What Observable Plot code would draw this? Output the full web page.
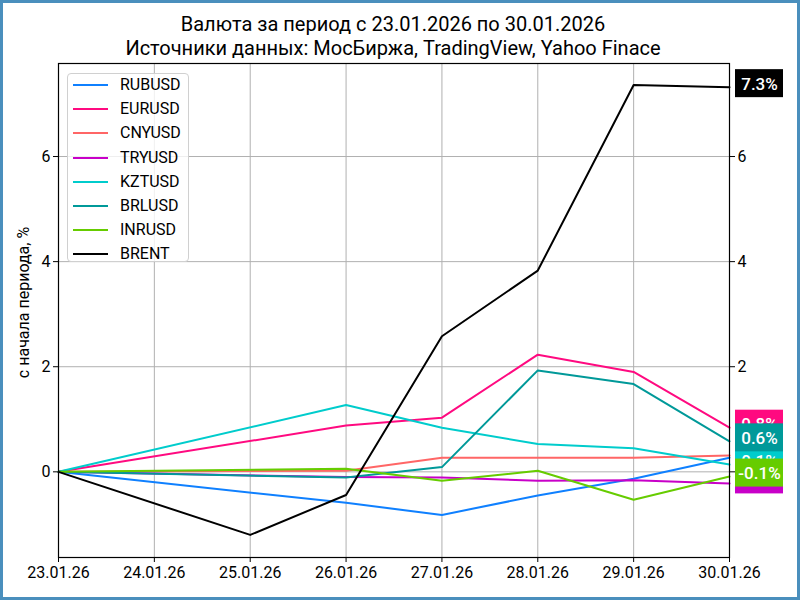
<!DOCTYPE html>
<html>
<head>
<meta charset="utf-8">
<script src="https://cdn.jsdelivr.net/npm/d3@7"></script>
<script src="https://cdn.jsdelivr.net/npm/@observablehq/plot@0.6"></script>
<style>
  body { margin: 0; background: #fff; }
  #wrap { position: relative; width: 800px; height: 600px; overflow: hidden; font-family: Roboto, sans-serif; background: #fff; }
  #title { position: absolute; left: 0; top: 12px; width: 786px; text-align: center; font-size: 20px; line-height: 24px; color: #000; }
  #chart { position: absolute; left: 0; top: 58px; }
  #legend { position: absolute; left: 67px; top: 73px; width: 122px; height: 189px; box-sizing: border-box;
            border: 1px solid #d0d0d0; border-radius: 4px; background: rgba(255,255,255,0.8); font-size: 16px; }
  .row { position: absolute; left: 0; height: 20px; width: 120px; }
  .row .sw { position: absolute; left: 5px; top: 9px; width: 35px; height: 2px; }
  .row .lb { position: absolute; left: 52px; top: 0; line-height: 20px; color: #000; }
  #border { position: absolute; left: 0; top: 0; width: 800px; height: 600px; box-sizing: border-box;
            border: 3px solid #4a8fbd; pointer-events: none; }
</style>
</head>
<body>
<div id="wrap">
  <div id="title">Валюта за период с 23.01.2026 по 30.01.2026<br>Источники данных: МосБиржа, TradingView, Yahoo Finace</div>
  <div id="chart"></div>
  <div id="legend"></div>
  <div id="border"></div>
</div>
<script>
// ---- data ----
const tickDates = ["2026-01-23","2026-01-24","2026-01-25","2026-01-26","2026-01-27","2026-01-28","2026-01-29","2026-01-30"];
const tickLabels = ["23.01.26","24.01.26","25.01.26","26.01.26","27.01.26","28.01.26","29.01.26","30.01.26"];
const seriesNames = ["RUBUSD","EURUSD","CNYUSD","TRYUSD","KZTUSD","BRLUSD","INRUSD","BRENT"];
const seriesColors = ["#0f80ff","#ff0a80","#ff6666","#c800c8","#00cccc","#009999","#66cc00","#000000"];
const fxDates = ["2026-01-23","2026-01-26","2026-01-27","2026-01-28","2026-01-29","2026-01-30"];
const RUBUSD = [0, -0.59, -0.82, -0.45, -0.13, 0.27];
const EURUSD = [0, 0.88, 1.03, 2.23, 1.90, 0.84];
const CNYUSD = [0, 0.02, 0.27, 0.27, 0.27, 0.31];
const TRYUSD = [0, -0.10, -0.11, -0.17, -0.16, -0.22];
const KZTUSD = [0, 1.27, 0.84, 0.53, 0.45, 0.14];
const BRLUSD = [0, -0.11, 0.09, 1.93, 1.67, 0.58];
const INRUSD = [0, 0.06, -0.17, 0.02, -0.53, -0.09];
const brentDates = ["2026-01-23","2026-01-25","2026-01-26","2026-01-27","2026-01-28","2026-01-29","2026-01-30"];
const BRENT = [0, -1.20, -0.44, 2.58, 3.83, 7.36, 7.32];
const yTicks = [0, 2, 4, 6];
const yLabel = "с начала периода, %";

// ---- build table ----
const seriesValues = {RUBUSD, EURUSD, CNYUSD, TRYUSD, KZTUSD, BRLUSD, INRUSD, BRENT};
const rows = [];
for (const s of seriesNames) {
  const ds = s === "BRENT" ? brentDates : fxDates;
  seriesValues[s].forEach((v, i) => rows.push({series: s, date: new Date(ds[i]), value: v}));
}
const lastPoints = seriesNames.map(s => {
  const r = rows.filter(d => d.series === s);
  return r[r.length - 1];
});
const ticks = tickDates.map(d => new Date(d));
const labelOf = new Map(ticks.map((t, i) => [+t, tickLabels[i]]));

// end-of-line value boxes, each box followed by its own text (so later boxes cover earlier labels)
const valueBoxes = lastPoints.flatMap(p => [
  Plot.rect([p], {x1: "date", x2: "date", y1: "value", y2: "value", fill: "series",
    insetLeft: 6, insetRight: -54, insetTop: -17.5, insetBottom: -10.5}),
  Plot.text([p], {x: "date", y: "value", text: d => d.value.toFixed(1) + "%", fill: "#fff",
    dx: 30, dy: -3, fontSize: 17, fontWeight: 500})
]);

const plot = Plot.plot({
  width: 800,
  height: 542,
  marginTop: 5,
  marginBottom: 43,
  marginLeft: 58,
  marginRight: 71,
  style: {fontFamily: "Roboto, sans-serif", fontSize: "16px", color: "#000", background: "transparent", overflow: "visible"},
  x: {type: "utc", domain: [ticks[0], ticks[ticks.length - 1]]},
  y: {domain: [-1.63, 7.77]},
  color: {domain: seriesNames, range: seriesColors},
  marks: [
    Plot.gridX(ticks, {stroke: "#b0b0b0", strokeOpacity: 1, strokeWidth: 1}),
    Plot.gridY(yTicks, {stroke: "#b0b0b0", strokeOpacity: 1, strokeWidth: 1}),
    Plot.axisX(ticks, {tickSize: 5, tickPadding: 4, tickFormat: d => labelOf.get(+d), label: null, fontSize: 16}),
    Plot.axisY(yTicks, {anchor: "left", tickSize: 5, tickPadding: 3, tickFormat: d => String(d), label: null, fontSize: 16}),
    Plot.axisY(yTicks, {anchor: "right", tickSize: 5, tickPadding: 3, tickFormat: d => String(d), label: null, fontSize: 16}),
    Plot.text([yLabel], {frameAnchor: "left", textAnchor: "middle", text: d => d, rotate: -90, dx: -35, dy: -8, fontSize: 16, fill: "#000"}),
    Plot.line(rows, {x: "date", y: "value", z: "series", stroke: "series", strokeWidth: 2}),
    Plot.frame({stroke: "#000", strokeWidth: 1.2}),
    ...valueBoxes
  ]
});
document.getElementById("chart").appendChild(plot);

// legend
const legend = document.getElementById("legend");
seriesNames.forEach((s, i) => {
  const row = document.createElement("div");
  row.className = "row";
  row.style.top = (1 + i * 24.2) + "px";
  const sw = document.createElement("div");
  sw.className = "sw";
  sw.style.background = seriesColors[i];
  const lb = document.createElement("div");
  lb.className = "lb";
  lb.textContent = s;
  row.appendChild(sw); row.appendChild(lb);
  legend.appendChild(row);
});
</script>
</body>
</html>
